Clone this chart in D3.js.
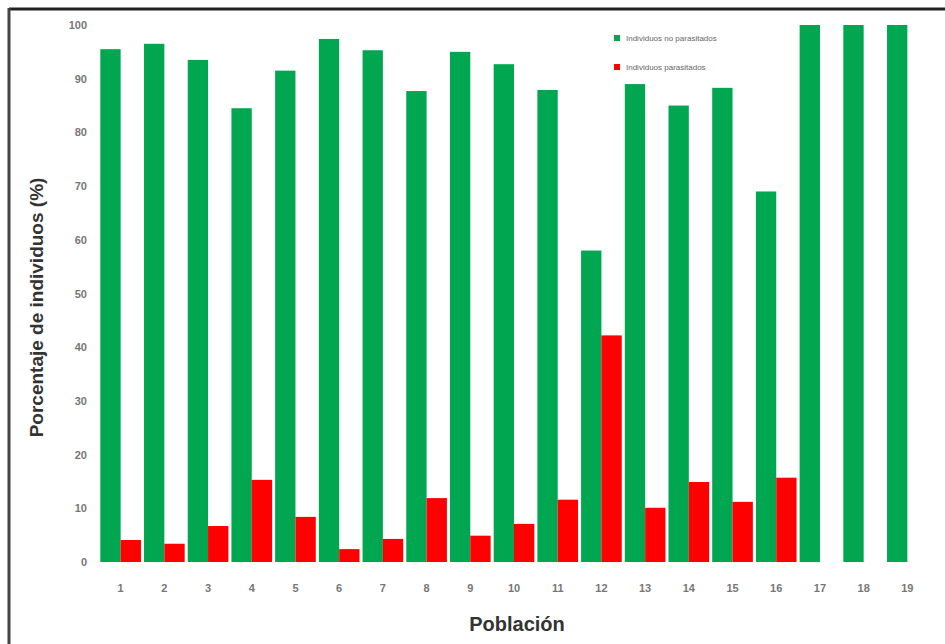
<!DOCTYPE html>
<html><head><meta charset="utf-8">
<script src="https://cdn.jsdelivr.net/npm/d3@7"></script>
<style>body{margin:0;background:#fff}svg{display:block}</style>
</head><body>
<svg id="c" width="945" height="644"></svg>
<script>
const categories = ["1","2","3","4","5","6","7","8","9","10","11","12","13","14","15","16","17","18","19"];
const seriesNames = ["Individuos no parasitados","Individuos parasitados"];
const greenValues = [95.5,96.5,93.5,84.5,91.5,97.4,95.3,87.7,95,92.7,87.9,58,89,85,88.3,69,100,100,100];
const redValues = [4.1,3.4,6.7,15.3,8.4,2.4,4.3,11.9,4.9,7.1,11.6,42.2,10.1,14.9,11.2,15.7,0,0,0];
const yTicks = [0,10,20,30,40,50,60,70,80,90,100];
const colors = ["#00a650","#ff0000"];

const svg = d3.select("#c");
const mLeft = 99, mRight = 929, mTop = 25, mBottom = 562;

// frame
svg.append("line").attr("x1",9).attr("x2",945).attr("y1",9).attr("y2",9).attr("stroke","#222").attr("stroke-width",3);
svg.append("line").attr("x1",9).attr("x2",9).attr("y1",8).attr("y2",644).attr("stroke","#444").attr("stroke-width",3);

const x = d3.scaleBand().domain(categories).range([mLeft, mRight]).paddingInner(0.07).paddingOuter(0.03);
const xs = d3.scaleBand().domain([0,1]).range([0, x.bandwidth()]);
const y = d3.scaleLinear().domain([0,100]).range([mBottom, mTop]);

// y axis
const ya = svg.append("g").attr("transform",`translate(${mLeft-12},0)`)
  .call(d3.axisLeft(y).tickValues(yTicks).tickSize(0).tickPadding(0));
ya.select(".domain").remove();
ya.selectAll("text").attr("fill","#777").attr("font-family","Arial, Liberation Sans, sans-serif").attr("font-size",11).attr("font-weight","bold");

// x axis
const xa = svg.append("g").attr("transform",`translate(0,${mBottom+22})`)
  .call(d3.axisBottom(x).tickSize(0).tickPadding(0));
xa.select(".domain").remove();
xa.selectAll("text").attr("fill","#777").attr("font-family","Arial, Liberation Sans, sans-serif").attr("font-size",11).attr("font-weight","bold");

const data = categories.map((c,i)=>({c, v:[greenValues[i], redValues[i]]}));
const g = svg.append("g");
data.forEach(d=>{
  d.v.forEach((v,k)=>{
    if(v<=0) return;
    g.append("rect").attr("x", x(d.c)+xs(k)).attr("width", xs.bandwidth())
      .attr("y", y(v)).attr("height", y(0)-y(v)).attr("fill", colors[k]);
  });
});

// legend
const lg = svg.append("g").attr("transform","translate(617,38)");
seriesNames.forEach((n,i)=>{
  const r = lg.append("g").attr("transform",`translate(0,${i*29})`);
  r.append("rect").attr("x",-3).attr("y",-3).attr("width",6).attr("height",6).attr("fill",colors[i]);
  r.append("text").attr("x",9).attr("y",3).attr("font-size",8).attr("fill","#666")
    .attr("font-family","Arial, Liberation Sans, sans-serif").text(n);
});

// titles
svg.append("text").attr("transform",`translate(43,${(mTop+mBottom)/2+14}) rotate(-90)`)
  .attr("text-anchor","middle").attr("font-family","Arial, Liberation Sans, sans-serif")
  .attr("font-weight","bold").attr("font-size",19).attr("fill","#333").text("Porcentaje de individuos (%)");
svg.append("text").attr("x",517).attr("y",631).attr("text-anchor","middle")
  .attr("font-family","Arial, Liberation Sans, sans-serif").attr("font-weight","bold")
  .attr("font-size",20).attr("fill","#333").text("Población");
</script>
</body></html>
